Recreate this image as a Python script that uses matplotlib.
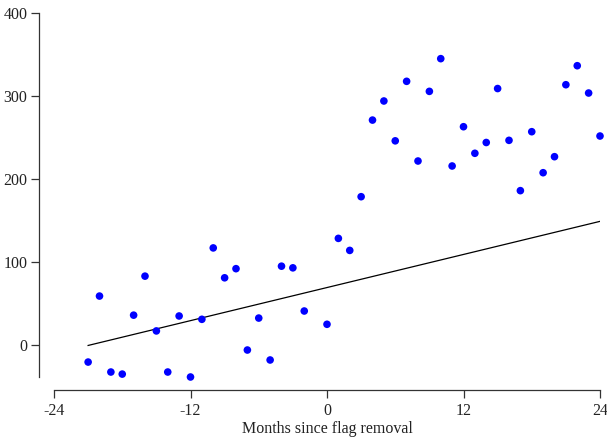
import matplotlib

matplotlib.use("Agg")
import matplotlib.pyplot as plt

# monthly averages around the flag removal
months = list(range(-21, 0)) + list(range(0, 25))
months.remove(-1)
values = [
    -20.5, 59, -32.5, -35, 36, 83, 17, -32.5, 35, -38.5,
    31, 117, 81, 92, -6, 32.5, -18, 95, 93, 41,
    25, 128.5, 114, 178.7, 271, 294, 246, 317.7, 221.7, 305.6,
    345, 215.7, 263, 231, 244, 309, 246.6, 186, 257, 207.6,
    226.9, 313.6, 336.5, 303.6, 251.8,
]

# fitted trend line
fit_x = [-21, 24]
fit_y = [-0.5, 149]

x_ticks = [-24, -12, 0, 12, 24]
y_ticks = [0, 100, 200, 300, 400]

plt.rcParams["font.family"] = ["Liberation Serif", "DejaVu Serif"]
plt.rcParams["axes.unicode_minus"] = False

W, H = 607, 442
fig = plt.figure(figsize=(W / 100, H / 100), dpi=100)
ax = fig.add_axes([54 / W, 1 - 377 / H, (600 - 54) / W, (377 - 13) / H])

ax.plot(fit_x, fit_y, color="black", lw=0.9, zorder=2)
ax.scatter(months, values, s=30, color="#0000ff", edgecolors="none", zorder=3, clip_on=False)

ax.set_xlim(-24, 24)
ax.set_ylim(-38.5, 400)
ax.set_xticks(x_ticks)
ax.set_yticks(y_ticks)

for side in ("top", "right"):
    ax.spines[side].set_visible(False)
ax.spines["left"].set_position(("outward", 11))
ax.spines["bottom"].set_position(("outward", 9))
for side in ("left", "bottom"):
    ax.spines[side].set_color("#333333")
    ax.spines[side].set_linewidth(0.9)

ax.tick_params(axis="both", direction="out", length=6, width=0.9, color="#333333",
               labelsize=11.5, labelcolor="#222222")
ax.tick_params(axis="x", pad=4)
ax.tick_params(axis="y", pad=2)
ax.set_xlabel("Months since flag removal", fontsize=11.5, color="#222222", labelpad=1)

fig.savefig("out.png", dpi=100)
